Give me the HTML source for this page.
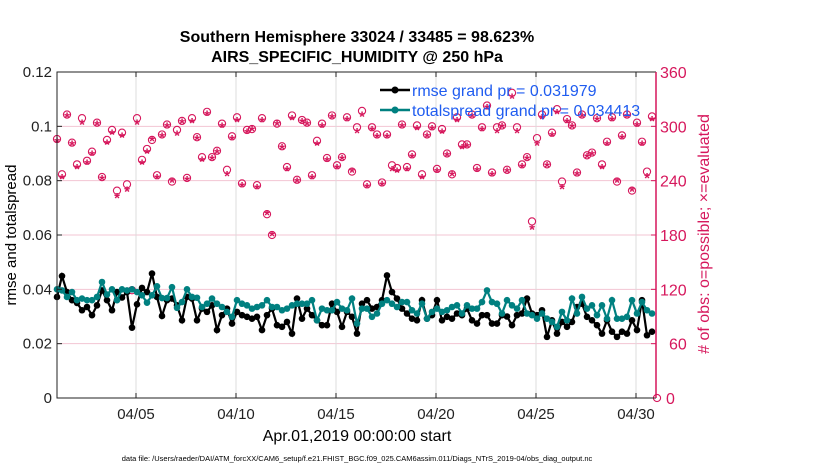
<!DOCTYPE html>
<html><head><meta charset="utf-8"><style>
body{margin:0;background:#fff;}
svg text{font-family:"Liberation Sans",Arial,sans-serif;}
</style></head><body>
<svg id="chart" width="830" height="470" viewBox="0 0 830 470" xmlns="http://www.w3.org/2000/svg">
<rect width="830" height="470" fill="#fff"/>
<g id="grid"></g>
<g id="obs"></g>
<g id="lines"></g>
<g id="axes"></g>
<text x="357" y="42" text-anchor="middle" font-size="16" font-weight="bold">Southern Hemisphere 33024 / 33485 = 98.623%</text>
<text x="357" y="62" text-anchor="middle" font-size="16" font-weight="bold">AIRS_SPECIFIC_HUMIDITY @ 250 hPa</text>
<text transform="translate(16,235) rotate(-90)" text-anchor="middle" font-size="15">rmse and totalspread</text>
<text transform="translate(709,234) rotate(-90)" text-anchor="middle" font-size="16" fill="#d6175c"># of obs: o=possible; ×=evaluated</text>
<text x="357" y="441" text-anchor="middle" font-size="16">Apr.01,2019 00:00:00 start</text>
<text x="357" y="461" text-anchor="middle" font-size="7.5">data file: /Users/raeder/DAI/ATM_forcXX/CAM6_setup/f.e21.FHIST_BGC.f09_025.CAM6assim.011/Diags_NTrS_2019-04/obs_diag_output.nc</text>
<g id="legend">
<line x1="380" y1="90" x2="410" y2="90" stroke="#000" stroke-width="2.5"/>
<circle cx="395" cy="90" r="3.5" fill="#000"/>
<text x="412" y="96" font-size="16" fill="#1f5cf0">rmse grand pr = 0.031979</text>
<line x1="380" y1="110" x2="410" y2="110" stroke="#008080" stroke-width="2.5"/>
<circle cx="395" cy="110" r="3.5" fill="#008080"/>
<text x="412" y="116" font-size="16" fill="#1f5cf0">totalspread grand pr = 0.034413</text>
</g>
</svg>
<script>
const rmse=[.0372,.0449,.039,.036,.035,.0323,.0335,.0305,.0341,.0396,.036,.0323,.039,.037,.039,.0259,.0345,.0405,.039,.0458,.0372,.0302,.036,.0366,.0341,.0286,.0372,.0366,.0286,.0329,.0317,
.0341,.0250,.0305,.0329,.0274,.0317,.0305,.0299,.0292,.0299,.0250,.0305,.0329,.0268,.0262,.0280,.0237,.0366,.0292,.0329,.0305,.0286,.0268,.0268,.0347,.0317,.0262,.0317,.0299,.0237,
.0347,.0360,.0329,.0335,.0360,.0451,.0390,.0366,.0329,.0311,.0292,.0286,.0360,.0292,.0305,.0360,.0286,.0299,.0292,.0311,.0305,.0329,.0286,.0274,.0305,.0305,.0274,.0274,.0305,.0300,
.0268,.0305,.0311,.0366,.0311,.0305,.0323,.0225,.0286,.0237,.0280,.0262,.0280,.0335,.0347,.0299,.0286,.0268,.0237,.0286,.0244,.0225,.0244,.0237,.0286,.0250,.0360,.0231,.0244];
const spread=[.040,.0396,.0372,.039,.036,.0366,.036,.036,.0372,.0427,.0381,.040,.036,.040,.0396,.040,.039,.0378,.0351,.0378,.0411,.0368,.0368,.0408,.0332,.0353,.040,.0372,.0369,.0335,.0347,
.0366,.0347,.0335,.0317,.0299,.0360,.0347,.0341,.0329,.0335,.0341,.0360,.0335,.0335,.0323,.0329,.0341,.0347,.0347,.0347,.0360,.0286,.0329,.0323,.0323,.0353,.0329,.0323,.0366,.0274,
.0329,.0329,.0299,.0311,.0347,.0360,.0347,.0335,.0353,.0353,.0323,.0311,.0347,.0292,.0317,.0329,.0317,.0323,.0335,.0341,.0311,.0341,.0329,.0329,.0353,.0396,.0353,.0347,.0311,.0360,
.0341,.0329,.0360,.0311,.0305,.0292,.0311,.0292,.0280,.0262,.0317,.0286,.0366,.0311,.0372,.0329,.0341,.0305,.0341,.0292,.0360,.0292,.0292,.0299,.0360,.0311,.0353,.0323,.0311];
const possible=[286,247,313,282,258,309,262,272,304,244,285,296,229,293,236,119,309,263,275,285,246,291,302,239,296,306,243,309,288,266,316,266,273,303,252,289,310,237,296,297,235,309,203,180,303,278,255,312,241,307,304,246,284,303,265,312,257,266,310,250,299,
317,236,299,291,238,291,257,254,302,255,269,301,247,291,300,253,297,270,247,310,280,280,313,254,299,323,249,299,301,252,337,299,258,266,195,287,313,258,293,319,239,308,301,249,313,268,271,309,258,283,310,239,290,313,229,304,283,250,311,0];
const evaluated=[283,243,311,280,254,303,259,269,302,242,281,292,222,289,229,119,303,259,271,285,243,289,300,239,291,304,241,305,286,262,313,264,271,300,246,286,306,234,293,296,232,306,203,180,302,276,252,308,239,305,302,243,280,300,262,310,254,264,307,250,294,
312,233,296,288,235,288,252,250,300,252,266,297,243,289,297,250,293,268,246,306,276,278,311,251,296,320,246,294,299,250,332,294,255,264,187,280,309,256,290,315,232,305,299,247,311,266,269,307,254,280,307,239,287,311,229,301,280,244,307,null];
const xTickDays=[4,9,14,19,24,29];
const xTickLabels=['04/05','04/10','04/15','04/20','04/25','04/30'];
const yTicks=[0,0.02,0.04,0.06,0.08,0.1,0.12];
const yTickLabels=['0','0.02','0.04','0.06','0.08','0.1','0.12'];
const rTicks=[0,60,120,180,240,300,360];
const t0=0.05, dt=0.25;
const X0=57,X1=656,Y0=398,Y1=72,D0=0.05,D1=30;
const xs=d=>X0+(d-D0)/(D1-D0)*(X1-X0);
const ys=v=>Y0-v/0.12*(Y0-Y1);
const yr=v=>Y0-v/360*(Y0-Y1);
const day=k=>t0+k*dt;
const NS='http://www.w3.org/2000/svg';
function mk(tag,attrs,parent){const e=document.createElementNS(NS,tag);for(const a in attrs)e.setAttribute(a,attrs[a]);parent.appendChild(e);return e;}
const MAG='#d6175c';
const grid=document.getElementById('grid'),axes=document.getElementById('axes'),obs=document.getElementById('obs'),lines=document.getElementById('lines');
rTicks.forEach(v=>{if(v>0&&v<360){const l=mk('line',{x1:X0,x2:X1,y1:yr(v),y2:yr(v),stroke:'#f3c4d3','stroke-width':1},grid);

}});
xTickDays.forEach((d,i)=>{const l=mk('line',{x1:xs(d),x2:xs(d),y1:Y1,y2:Y0,stroke:'#dcdcdc','stroke-width':1},grid);


mk('line',{x1:xs(d),x2:xs(d),y1:Y0,y2:Y0-5,stroke:'#222'},axes);
mk('line',{x1:xs(d),x2:xs(d),y1:Y1,y2:Y1+5,stroke:'#222'},axes);
const t=mk('text',{x:xs(d),y:419,'text-anchor':'middle','font-size':'15',fill:'#222'},axes);t.textContent=xTickLabels[i];

});
yTicks.forEach((v,i)=>{mk('line',{x1:X0,x2:X0+5,y1:ys(v),y2:ys(v),stroke:'#222'},axes);
const t=mk('text',{x:X0-5,y:ys(v)+5,'text-anchor':'end','font-size':'15',fill:'#222'},axes);t.textContent=yTickLabels[i];

});
rTicks.forEach(v=>{mk('line',{x1:X1-5,x2:X1,y1:yr(v),y2:yr(v),stroke:MAG},axes);
const t=mk('text',{x:v===0?X1+10:(v===60?X1+13:X1+4),y:yr(v)+6,'font-size':'16',fill:MAG},axes);t.textContent=v;

});
mk('path',{d:`M${X1},${Y1}H${X0}V${Y0}H${X1}`,fill:'none',stroke:'#222','stroke-width':1},axes);
mk('line',{x1:X1,x2:X1,y1:Y1,y2:Y0,stroke:MAG,'stroke-width':1.5},axes);
possible.forEach((v,k)=>{if(v===null)return;const c=mk('circle',{cx:xs(day(k)),cy:yr(v),r:3.6,fill:'none',stroke:MAG,'stroke-width':1.1},obs);

});
evaluated.forEach((v,k)=>{if(v===null)return;const x=xs(day(k)),y=yr(v);
const t=mk('text',{x:x,y:y+6,'text-anchor':'middle','font-size':'15',fill:MAG,'font-weight':'bold'},obs);t.textContent='*';

});
function series(arr,color,name){const pts=arr.map((v,k)=>xs(day(k))+','+ys(v)).join(' ');
const p=mk('polyline',{points:pts,fill:'none',stroke:color,'stroke-width':2.2},lines);


arr.forEach((v,k)=>{const c=mk('circle',{cx:xs(day(k)),cy:ys(v),r:3.3,fill:color},lines);

});}
series(rmse,'#000','rmse');
series(spread,'#008080','totalspread');
</script>
</body></html>
